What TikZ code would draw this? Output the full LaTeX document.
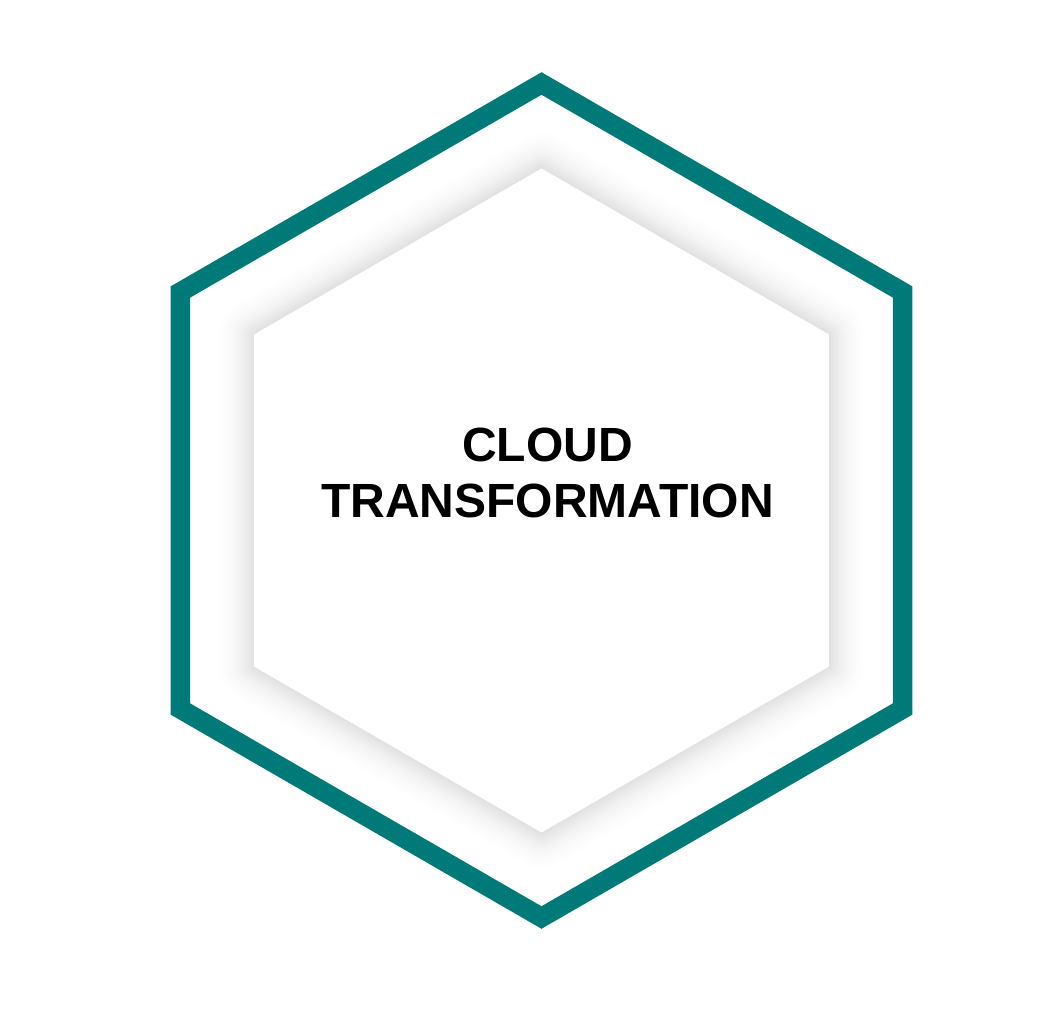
\documentclass[tikz,border=0pt]{standalone}
\usepackage{fontspec}
\setmainfont{Liberation Sans}
\definecolor{hexteal}{HTML}{007A78}
\begin{document}
\begin{tikzpicture}[x=1pt,y=-1pt,
  outerhex/.style={draw=hexteal, line width=19.5pt, line join=miter},
  titletext/.style={font=\fontsize{48}{56}\selectfont\bfseries, align=center, text=black, inner sep=0pt}]
\useasboundingbox (0,0) rectangle (1052,1024);
\fill[white] (0,0) rectangle (1052,1024);
% outer hexagon (circumradius 417)
\coordinate (c) at (541.5,500.5);
\draw[outerhex] (541.5,83.5) -- (902.6,292) -- (902.6,709) -- (541.5,917.5) -- (180.4,709) -- (180.4,292) -- cycle;
% soft shadow around inner hexagon (circumradius 332)
\foreach \i in {40,39,...,1}{
  \pgfmathsetmacro{\k}{12*(1-\i/41)*(1-\i/41)}
  \draw[line width=2*\i pt, line join=round, draw=black!\k]
    (541.5,168.5) -- (829,334.5) -- (829,666.5) -- (541.5,832.5) -- (254,666.5) -- (254,334.5) -- cycle;
}
\fill[white] (541.5,168.5) -- (829,334.5) -- (829,666.5) -- (541.5,832.5) -- (254,666.5) -- (254,334.5) -- cycle;
\node[titletext] (title) at (547.5,473) {CLOUD\\TRANSFORMATION};
\end{tikzpicture}
\end{document}
